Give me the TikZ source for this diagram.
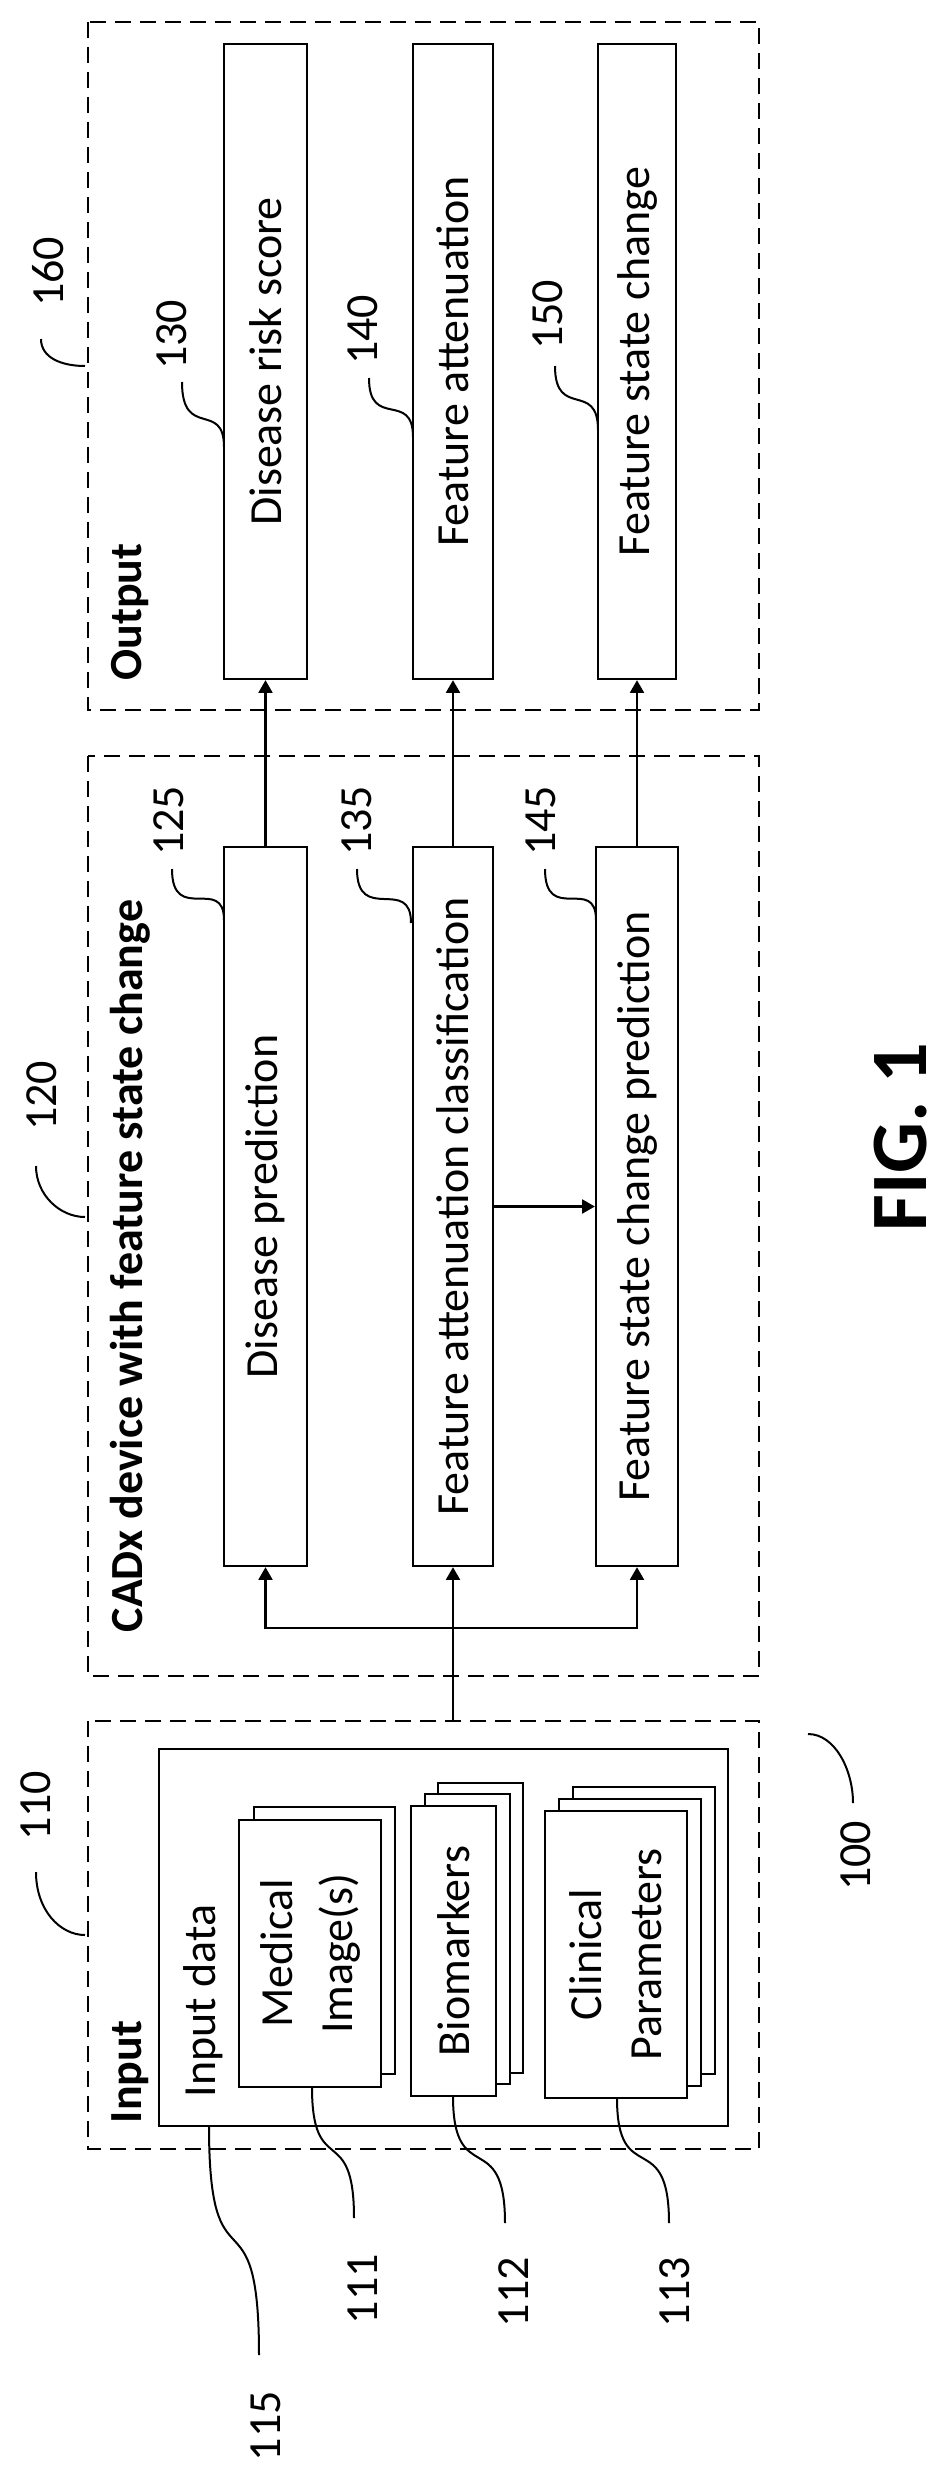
\documentclass[tikz,border=0pt]{standalone}
\usepackage{fontspec}
\setmainfont{Carlito}
\usetikzlibrary{arrows}

\tikzset{
  blk/.style={draw, line width=2.5pt, fill=white, rotate=90, inner sep=0pt, align=center},
  grp/.style={draw, line width=2.5pt, dash pattern=on 16pt off 9pt, rotate=90, inner sep=0pt},
  txt/.style={rotate=90, inner sep=0pt, align=center},
  ttl/.style={rotate=90, inner sep=0pt, font=\fontsize{46}{60}\selectfont\bfseries},
  lead/.style={line width=2pt},
}

\begin{document}
\begin{tikzpicture}[x=1pt, y=-1pt, >=triangle 60, line width=2.5pt,
  every node/.append style={font=\fontsize{46}{60}\selectfont}]
\useasboundingbox (0,0) rectangle (948,2478);

% group frames
\node [grp, minimum width=688pt, minimum height=671pt] (outgrp) at (423.5,366) {};
\node [grp, minimum width=920pt, minimum height=671pt] (cadgrp) at (423.5,1216) {};
\node [grp, minimum width=428pt, minimum height=671pt] (ingrp) at (423.5,1935) {};
\node [ttl] (outttl) at (130,612) {Output};
\node [ttl] (cadttl) at (130,1266) {CADx device with feature state change};
\node [ttl] (inttl) at (130,2072) {Input};

% output blocks
\node [blk, minimum width=635pt, minimum height=83pt] (drs) at (265.5,361.5) {Disease risk score};
\node [blk, minimum width=635pt, minimum height=80pt] (fat) at (453,361.5) {Feature attenuation};
\node [blk, minimum width=635pt, minimum height=78pt] (fsc) at (637,361.5) {Feature state change};

% CADx blocks
\node [blk, minimum width=719pt, minimum height=83pt] (dp) at (265.5,1206.5) {Disease prediction};
\node [blk, minimum width=719pt, minimum height=80pt] (fac) at (453,1206.5) {Feature attenuation classification};
\node [blk, minimum width=719pt, minimum height=82pt] (fscp) at (637,1206.5) {Feature state change prediction};

% input data
\node [blk, minimum width=377pt, minimum height=569pt] (indata) at (443.5,1937.5) {};
\node [txt] (indatatxt) at (203,2001) {Input data};
\draw [fill=white] (254,1807) rectangle (395,2074);
\node [blk, minimum width=267pt, minimum height=142pt] (medimg) at (310,1953.5) {Medical\\Image(s)};
\draw [fill=white] (438,1783) rectangle (523,2073);
\draw [fill=white] (425,1794) rectangle (510,2084);
\node [blk, minimum width=290pt, minimum height=85pt] (bio) at (453.5,1951) {Biomarkers};
\draw [fill=white] (573,1787) rectangle (715,2074);
\draw [fill=white] (559,1799) rectangle (701,2086);
\node [blk, minimum width=287pt, minimum height=142pt] (clin) at (616,1954.5) {Clinical\\Parameters};

% connectors
\coordinate (split) at (453,1628);
\draw (ingrp.east -| split) -- (split);
\draw [->] (split) -| (dp.west);
\draw [->] (split) -| (fscp.west);
\draw [->] (split) -- (fac.west);
\draw [->] (fac.south) -- (fscp.north);
\draw [->] (dp.east) -- (drs.west);
\draw [->] (fac.east) -- (fat.west);
\draw [->] (fscp.east) -- (fsc.west);

% reference numerals
\node [txt] (n160) at (48,272) {160};
\node [txt] (n130) at (172,335) {130};
\node [txt] (n140) at (363,330) {140};
\node [txt] (n150) at (548,315) {150};
\node [txt] (n125) at (169,821) {125};
\node [txt] (n135) at (357,821) {135};
\node [txt] (n145) at (541,821) {145};
\node [txt] (n120) at (42,1096) {120};
\node [txt] (n110) at (36,1806) {110};
\node [txt] (n100) at (856,1856) {100};
\node [txt] (n115) at (266,2426) {115};
\node [txt] (n111) at (363,2289) {111};
\node [txt] (n112) at (514,2292) {112};
\node [txt] (n113) at (675,2292) {113};

% leader lines
\draw [lead] (41,339) .. controls (41,358) and (62,366) .. (85,366);
\draw [lead] (182,382) .. controls (182,440) and (224,400) .. (224,447);
\draw [lead] (369,378) .. controls (369,430) and (413,390) .. (413,437);
\draw [lead] (555,366) .. controls (555,420) and (598,380) .. (598,430);
\draw [lead] (172,869) .. controls (172,925) and (224,875) .. (224,920);
\draw [lead] (357,869) .. controls (357,925) and (411,875) .. (411,923);
\draw [lead] (545,869) .. controls (545,925) and (596,875) .. (596,920);
\draw [lead] (36,1166) .. controls (36,1195) and (60,1217) .. (85,1217);
\draw [lead] (36,1872) .. controls (36,1910) and (60,1935) .. (85,1935);
\draw [lead] (808,1734) .. controls (835,1734) and (853,1770) .. (853,1803);
\draw [lead] (209,2126) .. controls (209,2300) and (259,2180) .. (259,2355);
\draw [lead] (312,2087) .. controls (312,2180) and (354,2120) .. (354,2218);
\draw [lead] (453,2096) .. controls (453,2190) and (505,2125) .. (505,2223);
\draw [lead] (617,2098) .. controls (617,2190) and (669,2125) .. (669,2223);

% figure caption
\node [txt, font=\fontsize{80}{84}\selectfont\bfseries] (fig) at (901,1137) {FIG. 1};
\end{tikzpicture}
\end{document}
